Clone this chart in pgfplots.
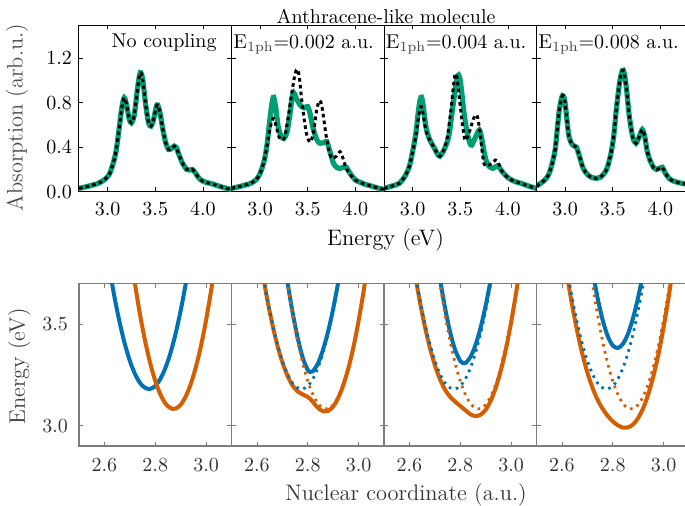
\documentclass[border=0pt]{standalone}
\usepackage{pgfplots}
\pgfplotsset{compat=1.18}
\definecolor{cgreen}{RGB}{0,158,115}
\definecolor{cblue}{RGB}{0,114,178}
\definecolor{corange}{RGB}{213,94,0}
\definecolor{spinegray}{RGB}{125,125,125}
\pgfplotsset{
 common/.style={scale only axis, width=76.25pt, anchor=north west, tick align=inside, tick pos=both,
   major tick length=2.2pt, /pgf/number format/fixed, /pgf/number format/fixed zerofill,
   /pgf/number format/precision=1, clip=true},
 toprow/.style={common, height=83.35pt, xmin=2.7, xmax=4.3, ymin=0, ymax=1.5,
   xtick={3.0,3.5,4.0}, ytick={0,0.4,0.8,1.2},
   axis line style={black, line width=0.5pt}, tick style={black, line width=0.4pt},
   xticklabel style={yshift=-1.7pt}},
 botrow/.style={common, height=81.35pt, xmin=2.5, xmax=3.1, ymin=2.9, ymax=3.7,
   xtick={2.6,2.8,3.0}, ytick={3.0,3.5},
   axis line style={spinegray, line width=0.6pt}, tick style={spinegray, line width=0.4pt},
   xticklabel style={yshift=-2.7pt, text=black!80}, yticklabel style={xshift=-2pt, text=black!80}},
 greenline/.style={cgreen, line width=2.6pt, smooth},
 blackdot/.style={black, line width=1.5pt, dash pattern=on 1.8pt off 1.6pt, smooth},
 solidb/.style={cblue, line width=2pt, smooth},
 solido/.style={corange, line width=2pt, smooth},
 dotb/.style={cblue, line width=1.4pt, dash pattern=on 1.3pt off 2.3pt, smooth},
 doto/.style={corange, line width=1.4pt, dash pattern=on 1.3pt off 2.3pt, smooth},
}
\newcommand{\Elab}[1]{E\textsubscript{\color{black!75}1ph}=#1 a.u.}
\begin{document}
\begin{tikzpicture}
% ---------------- top row ----------------
\begin{axis}[toprow, at={(39.5pt,-12.5pt)}]
\addplot[greenline] coordinates {(2.70,0.03) (2.80,0.05) (2.90,0.075) (2.97,0.11) (3.02,0.16) (3.06,0.26) (3.09,0.37) (3.12,0.56) (3.15,0.76) (3.175,0.845) (3.20,0.78) (3.225,0.66) (3.25,0.62) (3.28,0.69) (3.31,0.90) (3.335,1.05) (3.35,1.07) (3.37,1.00) (3.40,0.78) (3.43,0.62) (3.455,0.59) (3.48,0.64) (3.51,0.76) (3.525,0.78) (3.55,0.71) (3.58,0.56) (3.61,0.44) (3.64,0.38) (3.67,0.39) (3.70,0.41) (3.72,0.40) (3.75,0.33) (3.79,0.25) (3.83,0.20) (3.86,0.195) (3.89,0.20) (3.92,0.17) (3.96,0.12) (4.00,0.095) (4.05,0.08) (4.10,0.07) (4.17,0.05) (4.25,0.03) (4.30,0.02)};
\addplot[blackdot] coordinates {(2.70,0.03) (2.80,0.05) (2.90,0.075) (2.97,0.11) (3.02,0.16) (3.06,0.26) (3.09,0.37) (3.12,0.56) (3.15,0.76) (3.175,0.845) (3.20,0.78) (3.225,0.66) (3.25,0.62) (3.28,0.69) (3.31,0.90) (3.335,1.05) (3.35,1.07) (3.37,1.00) (3.40,0.78) (3.43,0.62) (3.455,0.59) (3.48,0.64) (3.51,0.76) (3.525,0.78) (3.55,0.71) (3.58,0.56) (3.61,0.44) (3.64,0.38) (3.67,0.39) (3.70,0.41) (3.72,0.40) (3.75,0.33) (3.79,0.25) (3.83,0.20) (3.86,0.195) (3.89,0.20) (3.92,0.17) (3.96,0.12) (4.00,0.095) (4.05,0.08) (4.10,0.07) (4.17,0.05) (4.25,0.03) (4.30,0.02)};
\node[anchor=base east, inner sep=0pt] at (rel axis cs:0.905,0.865) {No coupling};
\end{axis}
\begin{axis}[toprow, at={(115.75pt,-12.5pt)}, yticklabels={}]
\addplot[greenline] coordinates {(2.70,0.03) (2.80,0.05) (2.90,0.075) (2.96,0.11) (3.00,0.165) (3.04,0.27) (3.07,0.405) (3.10,0.63) (3.125,0.80) (3.143,0.85) (3.165,0.75) (3.19,0.585) (3.22,0.50) (3.25,0.48) (3.28,0.53) (3.31,0.68) (3.335,0.84) (3.353,0.89) (3.38,0.84) (3.42,0.78) (3.46,0.755) (3.50,0.765) (3.53,0.68) (3.56,0.556) (3.60,0.46) (3.63,0.436) (3.665,0.44) (3.70,0.45) (3.73,0.37) (3.77,0.256) (3.81,0.215) (3.84,0.21) (3.875,0.22) (3.905,0.22) (3.94,0.17) (4.00,0.105) (4.05,0.085) (4.09,0.07) (4.17,0.05) (4.25,0.03) (4.30,0.02)};
\addplot[blackdot] coordinates {(2.70,0.03) (2.80,0.05) (2.90,0.075) (2.96,0.11) (3.00,0.165) (3.04,0.27) (3.07,0.40) (3.10,0.55) (3.125,0.64) (3.143,0.66) (3.165,0.60) (3.20,0.49) (3.23,0.466) (3.26,0.50) (3.30,0.70) (3.34,0.93) (3.37,1.07) (3.39,1.10) (3.41,1.04) (3.44,0.80) (3.48,0.55) (3.51,0.46) (3.53,0.45) (3.56,0.53) (3.595,0.74) (3.625,0.82) (3.65,0.76) (3.69,0.52) (3.725,0.36) (3.756,0.30) (3.80,0.32) (3.84,0.36) (3.87,0.30) (3.90,0.22) (3.94,0.16) (4.00,0.105) (4.05,0.085) (4.09,0.07) (4.17,0.05) (4.25,0.03) (4.30,0.02)};
\node[anchor=base west, inner sep=0pt] at (rel axis cs:0.01,0.862) {\Elab{0.002}};
\end{axis}
\begin{axis}[toprow, at={(192pt,-12.5pt)}, yticklabels={}]
\addplot[greenline] coordinates {(2.70,0.03) (2.78,0.05) (2.86,0.075) (2.92,0.14) (2.965,0.225) (3.00,0.36) (3.034,0.525) (3.06,0.72) (3.08,0.83) (3.094,0.85) (3.11,0.78) (3.14,0.585) (3.17,0.49) (3.19,0.45) (3.23,0.39) (3.26,0.34) (3.286,0.32) (3.32,0.36) (3.36,0.44) (3.385,0.525) (3.415,0.72) (3.44,0.87) (3.465,1.02) (3.482,1.05) (3.50,1.00) (3.52,0.86) (3.54,0.706) (3.57,0.54) (3.60,0.44) (3.62,0.42) (3.66,0.49) (3.70,0.556) (3.725,0.48) (3.75,0.36) (3.77,0.285) (3.80,0.23) (3.84,0.21) (3.87,0.225) (3.90,0.23) (3.94,0.18) (4.01,0.12) (4.08,0.09) (4.14,0.075) (4.22,0.05) (4.28,0.035) (4.30,0.03)};
\addplot[blackdot] coordinates {(2.70,0.03) (2.78,0.05) (2.86,0.075) (2.92,0.14) (2.965,0.225) (3.00,0.36) (3.034,0.50) (3.06,0.66) (3.08,0.75) (3.094,0.765) (3.11,0.70) (3.14,0.55) (3.17,0.48) (3.19,0.45) (3.23,0.39) (3.26,0.34) (3.286,0.32) (3.32,0.36) (3.36,0.47) (3.40,0.72) (3.43,0.96) (3.447,1.06) (3.465,1.03) (3.49,0.85) (3.52,0.62) (3.545,0.48) (3.56,0.466) (3.60,0.55) (3.64,0.66) (3.674,0.69) (3.70,0.58) (3.73,0.36) (3.75,0.25) (3.78,0.23) (3.82,0.25) (3.87,0.285) (3.90,0.26) (3.94,0.18) (4.01,0.12) (4.08,0.09) (4.14,0.075) (4.22,0.05) (4.28,0.035) (4.30,0.03)};
\node[anchor=base west, inner sep=0pt] at (rel axis cs:0.01,0.862) {\Elab{0.004}};
\end{axis}
\begin{axis}[toprow, at={(268.25pt,-12.5pt)}, yticklabels={}]
\addplot[greenline] coordinates {(2.70,0.05) (2.78,0.10) (2.825,0.15) (2.86,0.24) (2.895,0.375) (2.92,0.58) (2.94,0.74) (2.965,0.85) (2.982,0.862) (3.00,0.80) (3.02,0.64) (3.04,0.50) (3.07,0.43) (3.10,0.41) (3.12,0.40) (3.15,0.32) (3.19,0.21) (3.24,0.15) (3.29,0.125) (3.33,0.12) (3.37,0.13) (3.41,0.165) (3.44,0.21) (3.48,0.34) (3.51,0.50) (3.54,0.76) (3.575,1.00) (3.60,1.09) (3.62,1.07) (3.645,0.92) (3.674,0.676) (3.71,0.49) (3.744,0.436) (3.78,0.50) (3.81,0.56) (3.835,0.50) (3.86,0.37) (3.89,0.285) (3.93,0.215) (3.96,0.20) (3.99,0.21) (4.02,0.22) (4.05,0.17) (4.09,0.12) (4.14,0.095) (4.20,0.08) (4.26,0.07) (4.30,0.06)};
\addplot[blackdot] coordinates {(2.70,0.05) (2.78,0.10) (2.825,0.15) (2.86,0.24) (2.895,0.375) (2.92,0.58) (2.94,0.74) (2.965,0.85) (2.982,0.862) (3.00,0.80) (3.02,0.64) (3.04,0.50) (3.07,0.43) (3.10,0.41) (3.12,0.40) (3.15,0.32) (3.19,0.21) (3.24,0.15) (3.29,0.125) (3.33,0.12) (3.37,0.13) (3.41,0.165) (3.44,0.21) (3.48,0.34) (3.51,0.50) (3.54,0.76) (3.575,1.00) (3.60,1.09) (3.62,1.07) (3.645,0.92) (3.674,0.676) (3.71,0.49) (3.744,0.436) (3.78,0.50) (3.81,0.56) (3.835,0.50) (3.86,0.37) (3.89,0.285) (3.93,0.215) (3.96,0.20) (3.99,0.21) (4.02,0.22) (4.05,0.17) (4.09,0.12) (4.14,0.095) (4.20,0.08) (4.26,0.07) (4.30,0.06)};
\node[anchor=base west, inner sep=0pt] at (rel axis cs:0.01,0.862) {\Elab{0.008}};
\end{axis}
% ---------------- bottom row ----------------
\begin{axis}[botrow, at={(39.5pt,-141.65pt)}]
\addplot[solidb] coordinates {(2.60,3.936) (2.62,3.773) (2.64,3.630) (2.66,3.507) (2.68,3.403) (2.70,3.319) (2.72,3.255) (2.74,3.210) (2.76,3.186) (2.78,3.181) (2.80,3.195) (2.82,3.230) (2.84,3.284) (2.86,3.358) (2.88,3.452) (2.90,3.566) (2.92,3.699) (2.94,3.853)};
\addplot[solido] coordinates {(2.68,4.066) (2.70,3.872) (2.72,3.699) (2.74,3.547) (2.76,3.417) (2.78,3.308) (2.80,3.220) (2.82,3.154) (2.84,3.109) (2.86,3.086) (2.88,3.084) (2.90,3.103) (2.92,3.144) (2.94,3.206) (2.96,3.289) (2.98,3.393) (3.00,3.520) (3.02,3.667) (3.04,3.836)};
\end{axis}
\begin{axis}[botrow, at={(115.75pt,-141.65pt)}, yticklabels={}]
\addplot[solidb] coordinates {(2.66,4.288) (2.68,4.072) (2.70,3.880) (2.72,3.708) (2.74,3.559) (2.76,3.434) (2.78,3.335) (2.80,3.274) (2.81,3.264) (2.82,3.267) (2.84,3.306) (2.86,3.373) (2.88,3.463) (2.90,3.575) (2.92,3.707) (2.94,3.860)};
\addplot[solido] coordinates {(2.58,4.116) (2.60,3.932) (2.62,3.769) (2.64,3.625) (2.66,3.502) (2.68,3.397) (2.70,3.312) (2.72,3.246) (2.74,3.198) (2.76,3.169) (2.78,3.154) (2.80,3.141) (2.81,3.131) (2.82,3.117) (2.84,3.088) (2.86,3.071) (2.88,3.073) (2.90,3.094) (2.92,3.137) (2.94,3.200) (2.96,3.283) (2.98,3.388) (3.00,3.515) (3.02,3.663) (3.04,3.832)};
\addplot[dotb] coordinates {(2.60,3.936) (2.62,3.773) (2.64,3.630) (2.66,3.507) (2.68,3.403) (2.70,3.319) (2.72,3.255) (2.74,3.210) (2.76,3.186) (2.78,3.181) (2.80,3.195) (2.82,3.230) (2.84,3.284) (2.86,3.358) (2.88,3.452) (2.90,3.566) (2.92,3.699) (2.94,3.853)};
\addplot[doto] coordinates {(2.68,4.066) (2.70,3.872) (2.72,3.699) (2.74,3.547) (2.76,3.417) (2.78,3.308) (2.80,3.220) (2.82,3.154) (2.84,3.109) (2.86,3.086) (2.88,3.084) (2.90,3.103) (2.92,3.144) (2.94,3.206) (2.96,3.289) (2.98,3.393) (3.00,3.520) (3.02,3.667) (3.04,3.836)};
\end{axis}
\begin{axis}[botrow, at={(192pt,-141.65pt)}, yticklabels={}]
\addplot[solidb] coordinates {(2.66,4.297) (2.68,4.084) (2.70,3.893) (2.72,3.725) (2.74,3.580) (2.76,3.461) (2.78,3.372) (2.80,3.318) (2.81,3.308) (2.82,3.308) (2.84,3.337) (2.86,3.397) (2.88,3.482) (2.90,3.591) (2.92,3.720) (2.94,3.871)};
\addplot[solido] coordinates {(2.58,4.109) (2.60,3.925) (2.62,3.761) (2.64,3.617) (2.66,3.492) (2.68,3.385) (2.70,3.298) (2.72,3.229) (2.74,3.177) (2.76,3.142) (2.78,3.118) (2.80,3.097) (2.82,3.076) (2.84,3.056) (2.86,3.047) (2.88,3.054) (2.90,3.078) (2.92,3.123) (2.94,3.188) (2.96,3.273) (2.98,3.379) (3.00,3.507) (3.02,3.655) (3.04,3.825)};
\addplot[dotb] coordinates {(2.60,3.936) (2.62,3.773) (2.64,3.630) (2.66,3.507) (2.68,3.403) (2.70,3.319) (2.72,3.255) (2.74,3.210) (2.76,3.186) (2.78,3.181) (2.80,3.195) (2.82,3.230) (2.84,3.284) (2.86,3.358) (2.88,3.452) (2.90,3.566) (2.92,3.699) (2.94,3.853)};
\addplot[doto] coordinates {(2.68,4.066) (2.70,3.872) (2.72,3.699) (2.74,3.547) (2.76,3.417) (2.78,3.308) (2.80,3.220) (2.82,3.154) (2.84,3.109) (2.86,3.086) (2.88,3.084) (2.90,3.103) (2.92,3.144) (2.94,3.206) (2.96,3.289) (2.98,3.393) (3.00,3.520) (3.02,3.667) (3.04,3.836)};
\end{axis}
\begin{axis}[botrow, at={(268.25pt,-141.65pt)}, yticklabels={}]
\addplot[solidb] coordinates {(2.66,4.324) (2.68,4.115) (2.70,3.929) (2.72,3.767) (2.74,3.630) (2.76,3.521) (2.78,3.441) (2.80,3.394) (2.82,3.382) (2.84,3.402) (2.86,3.452) (2.88,3.530) (2.90,3.632) (2.92,3.756) (2.94,3.903)};
\addplot[solido] coordinates {(2.58,4.092) (2.60,3.906) (2.62,3.740) (2.64,3.593) (2.66,3.465) (2.68,3.354) (2.70,3.262) (2.72,3.187) (2.74,3.128) (2.76,3.083) (2.78,3.048) (2.80,3.021) (2.82,3.002) (2.84,2.991) (2.86,2.992) (2.88,3.006) (2.90,3.038) (2.92,3.087) (2.94,3.156) (2.96,3.245) (2.98,3.353) (3.00,3.484) (3.02,3.633) (3.04,3.805)};
\addplot[dotb] coordinates {(2.60,3.936) (2.62,3.773) (2.64,3.630) (2.66,3.507) (2.68,3.403) (2.70,3.319) (2.72,3.255) (2.74,3.210) (2.76,3.186) (2.78,3.181) (2.80,3.195) (2.82,3.230) (2.84,3.284) (2.86,3.358) (2.88,3.452) (2.90,3.566) (2.92,3.699) (2.94,3.853)};
\addplot[doto] coordinates {(2.68,4.066) (2.70,3.872) (2.72,3.699) (2.74,3.547) (2.76,3.417) (2.78,3.308) (2.80,3.220) (2.82,3.154) (2.84,3.109) (2.86,3.086) (2.88,3.084) (2.90,3.103) (2.92,3.144) (2.94,3.206) (2.96,3.289) (2.98,3.393) (3.00,3.520) (3.02,3.667) (3.04,3.836)};
\end{axis}
% ---------------- labels ----------------
\node[anchor=base] at (193pt,-11.5pt) {Anthracene-like molecule};
\node[anchor=base, font=\fontsize{11.2}{13.4}\selectfont] at (192.75pt,-122.5pt) {Energy (eV)};
\node[anchor=base, rotate=90, text=black!70, font=\fontsize{11.2}{13.4}\selectfont] at (11.25pt,-58.75pt) {Absorption (arb.u.)};
\node[anchor=base, rotate=90, text=black!75, font=\fontsize{11.2}{13.4}\selectfont] at (12.5pt,-183.25pt) {Energy (eV)};
\node[anchor=base, text=black!80, font=\fontsize{11.2}{13.4}\selectfont] at (203pt,-250pt) {Nuclear coordinate (a.u.)};
\pgfresetboundingbox
\path[use as bounding box] (0pt,0pt) rectangle (342.5pt,-252.5pt);
\end{tikzpicture}
\end{document}
